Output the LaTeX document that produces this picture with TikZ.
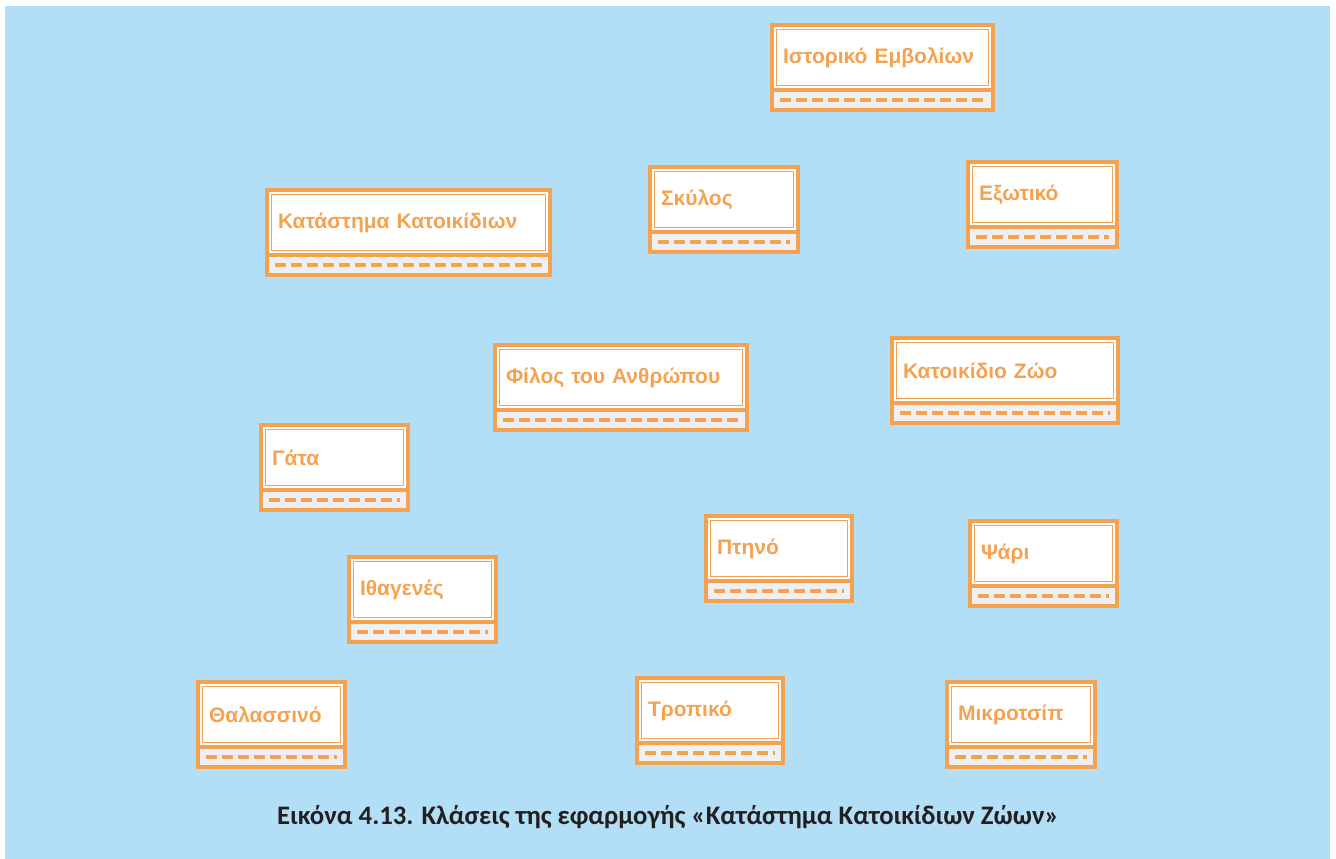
\documentclass[tikz,border=0pt]{standalone}
\usepackage{fontspec}
\newfontfamily\clsfont{Liberation Sans Bold}
\newfontfamily\capfont{Carlito}[BoldFont={Carlito Bold}]
\usetikzlibrary{positioning}
\definecolor{bgblue}{RGB}{178,223,245}
\definecolor{clsorange}{RGB}{245,162,80}
\definecolor{stripgrey}{RGB}{238,240,243}
\definecolor{captext}{RGB}{35,31,32}

\begin{document}
\begin{tikzpicture}[x=1pt,y=-1pt,
  cls/.style={draw=clsorange,line width=3.5pt,outer sep=0pt,fill=white,anchor=north west,minimum height=65pt,inner xsep=11pt,align=left,text=clsorange,font=\clsfont\fontsize{21}{24}\selectfont},
  strip/.style={draw=clsorange,line width=3.5pt,fill=stripgrey},
  dashline/.style={clsorange,line width=4.5pt,dash pattern=on 11pt off 5pt},
  innerline/.style={clsorange,line width=1pt}]
\useasboundingbox (0,0) rectangle (1336,859);
\fill[bgblue] (5,6) rectangle (1330,859);
% classes
\node[cls,text width=199pt] (istoriko) at (772,25) {Ιστορικό Εμβολίων};
\node[cls,text width=126pt] (skylos) at (650,167) {Σκύλος};
\node[cls,text width=127pt] (exotiko) at (968,162) {Εξωτικό};
\node[cls,text width=261pt] (katastima) at (267,190) {Κατάστημα Κατοικίδιων};
\node[cls,text width=230pt] (filos) at (495,345) {Φίλος του Ανθρώπου};
\node[cls,text width=204pt] (katoikidio) at (892,338) {Κατοικίδιο Ζώο};
\node[cls,text width=125pt] (gata) at (261,425) {Γάτα};
\node[cls,text width=124pt] (ptino) at (706,516) {Πτηνό};
\node[cls,text width=125pt] (psari) at (970,521) {Ψάρι};
\node[cls,text width=125pt] (ithagenes) at (349,557) {Ιθαγενές};
\node[cls,text width=125pt] (thalassino) at (198,682) {Θαλασσινό};
\node[cls,text width=124pt] (tropiko) at (637,678) {Τροπικό};
\node[cls,text width=126pt] (mikrotsip) at (947,682) {Μικροτσίπ};
% strips under each class
\foreach \n in {istoriko,skylos,exotiko,katastima,filos,katoikidio,gata,ptino,psari,ithagenes,thalassino,tropiko,mikrotsip}{
  \draw[strip] (\n.south west) rectangle ([yshift=-20pt]\n.south east);
  \draw[dashline] ([xshift=8pt,yshift=-10pt]\n.south west) -- ([xshift=-8pt,yshift=-10pt]\n.south east);
  \draw[innerline] ([shift={(4.5pt,-4.5pt)}]\n.north west) rectangle ([shift={(-4.5pt,4.5pt)}]\n.south east);
}
\node[font=\capfont\bfseries\fontsize{26.7}{30}\selectfont,text=captext] (caption) at (668,817) {Εικόνα 4.13. Κλάσεις της εφαρμογής «Κατάστημα Κατοικίδιων Ζώων»};
\end{tikzpicture}
\end{document}
